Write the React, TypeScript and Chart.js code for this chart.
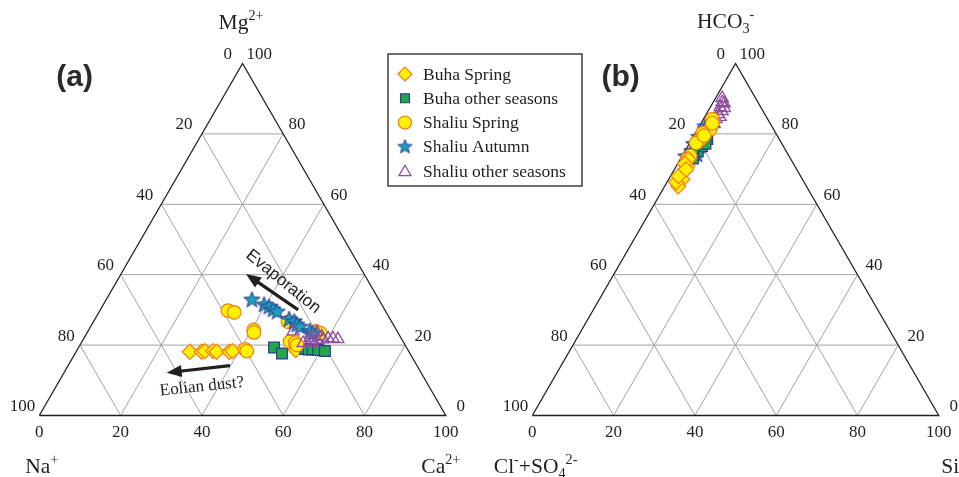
import { useEffect, useRef } from 'react';
import { Chart, registerables } from 'chart.js';
import { drawPoint } from 'chart.js/helpers';

Chart.register(...registerables);

const W = 959;
const H = 477;
const TICKS = [0, 20, 40, 60, 80, 100];

// Panel (a) cations: [Ca2+ %, Mg2+ %]  (Na+ % = 100 - Ca - Mg)
const aBuhaSpring: number[][] = [
  [28.0, 18.1], [30.9, 18.1], [31.6, 18.3], [33.6, 18.3], [34.6, 18.1], [37.7, 18.1], [38.4, 18.3], [53.8, 18.6],
];
const aBuhaOther: number[][] = [
  [48.1, 19.3], [50.9, 17.6], [56.0, 18.9], [56.9, 18.75], [57.9, 18.75], [59.3, 18.6], [61.1, 18.3],
];
const aShaliuSpring: number[][] = [
  [31.5, 29.8], [33.3, 29.3], [40.6, 24.3], [41.0, 23.6], [41.2, 18.8], [41.9, 18.3], [47.9, 26.6],
  [51.2, 21.0], [52.6, 20.7], [53.4, 20.0], [56.1, 23.9], [57.4, 23.4],
];
const aShaliuAutumn: number[][] = [
  [35.9, 32.8], [39.6, 31.4], [41.1, 30.8], [42.5, 30.0], [43.8, 29.4], [47.8, 27.3], [49.4, 26.6],
  [50.5, 25.7], [51.6, 25.1], [54.6, 23.9], [55.7, 23.2],
];
const aShaliuOther: number[][] = [
  [50.5, 23.9], [54.6, 20.6], [56.1, 21.0], [55.6, 22.0], [57.6, 21.4], [56.4, 23.7], [58.3, 22.4],
  [59.0, 21.6], [60.1, 21.9], [61.3, 21.9], [62.6, 21.7], [57.0, 20.6],
];

// Panel (b) anions: [Si %, HCO3- %]  (Cl- + SO4 2- % = 100 - Si - HCO3)
const bBuhaSpring: number[][] = [
  [1.95, 72.8], [2.7, 70.8], [2.55, 69.1], [3.35, 67.1], [3.35, 65.1], [2.25, 66.3], [2.0, 68.0], [1.8, 71.5], [2.9, 69.9],
];
const bBuhaOther: number[][] = [
  [3.2, 75.0], [3.5, 76.5], [2.6, 74.0], [3.8, 78.5], [3.0, 73.0], [4.0, 77.2],
];
const bShaliuSpring: number[][] = [
  [2.2, 84.2], [3.1, 81.3], [1.8, 80.2], [2.0, 78.2], [1.6, 77.4], [2.0, 73.7], [1.7, 72.8], [2.8, 83.0], [2.5, 79.5],
];
const bShaliuAutumn: number[][] = [
  [1.5, 82.0], [2.5, 80.5], [1.5, 79.0], [2.8, 78.0], [1.2, 77.0], [2.5, 76.0], [1.8, 75.0], [3.5, 74.0], [1.0, 73.5], [2.0, 81.2],
];
const bShaliuOther: number[][] = [
  [1.6, 90.2], [2.85, 88.7], [2.4, 87.6], [3.45, 86.5], [2.9, 85.6], [3.1, 84.2], [3.35, 82.8], [3.8, 84.8], [2.2, 89.0], [3.6, 87.3],
];

const SERIES_LABELS = ['Buha Spring', 'Buha other seasons', 'Shaliu Spring', 'Shaliu Autumn', 'Shaliu other seasons'];

// Annotation arrows in panel (a) ternary coords [Ca, Mg]
const EVAP_ARROW = { from: [48.7, 30.0], to: [30.75, 40.2] };
const EOLIAN_ARROW = { from: [39.85, 14.15], to: [25.26, 12.16] };
const EVAP_TEXT = { at: [41.0, 38.0], text: 'Evaporation' };
const EOLIAN_TEXT = { at: [35.9, 8.2], text: 'Eolian dust?' };

// layout (unit scale)
const K = 4.065;
const LEFT_PX = 39.3;
const BASE_PX = 415.5;
const B_OFFSET = 121.28;
const SQ3 = Math.sqrt(3) / 2;

const YELLOW = '#FFF200';
const ORANGE = '#F47A20';
const GREEN = '#22A84A';
const NAVY = '#2B3990';
const TEAL = '#1E9EBE';
const PURPLE = '#8F4C9F';
const INK = '#231F20';
const GRID = '#A3A3A3';
const SERIF = "'Liberation Serif', 'Times New Roman', serif";
const SANS = "'Liberation Sans', Arial, sans-serif";

function makeStar(ro: number, ri: number, fill: string, stroke: string, lw: number) {
  const size = Math.ceil(ro * 2 + lw * 2 + 2);
  const c = document.createElement('canvas');
  c.width = size;
  c.height = size;
  const g = c.getContext('2d')!;
  g.translate(size / 2, size / 2);
  g.beginPath();
  for (let i = 0; i < 10; i++) {
    const r = i % 2 ? ri : ro;
    const a = -Math.PI / 2 + (i * Math.PI) / 5;
    g.lineTo(r * Math.cos(a), r * Math.sin(a));
  }
  g.closePath();
  g.fillStyle = fill;
  g.fill();
  g.lineWidth = lw;
  g.strokeStyle = stroke;
  g.stroke();
  return c;
}

const tern = (r: number, t: number, off: number) => ({ x: off + r + t / 2, y: t * SQ3 });

function seriesStyles(star: HTMLCanvasElement) {
  return [
    { pointStyle: 'rectRot', pointRadius: 7.6, backgroundColor: YELLOW, borderColor: ORANGE, borderWidth: 1.2 },
    { pointStyle: 'rect', pointRadius: 7.6, backgroundColor: GREEN, borderColor: NAVY, borderWidth: 1.2 },
    { pointStyle: 'circle', pointRadius: 6.8, backgroundColor: YELLOW, borderColor: ORANGE, borderWidth: 1.2 },
    { pointStyle: star, pointRadius: 8, backgroundColor: TEAL, borderColor: NAVY, borderWidth: 1 },
    { pointStyle: 'triangle', pointRadius: 7, backgroundColor: 'rgba(0,0,0,0)', borderColor: PURPLE, borderWidth: 1.3 },
  ];
}

function gridSegments(off: number) {
  const segs: { x: number; y: number }[][] = [];
  for (const c of [20, 40, 60, 80]) {
    segs.push([tern(0, c, off), tern(100 - c, c, off)]);
    segs.push([tern(c, 0, off), tern(c, 100 - c, off)]);
    segs.push([tern(100 - c, 0, off), tern(0, 100 - c, off)]);
  }
  return segs;
}

type Part = { t: string; k?: 'sup' | 'sub' };

function drawRich(ctx: CanvasRenderingContext2D, x: number, y: number, parts: Part[], size: number) {
  let cx = x;
  ctx.textBaseline = 'alphabetic';
  ctx.textAlign = 'left';
  for (const p of parts) {
    const s = p.k ? size * 0.66 : size;
    ctx.font = `${s}px ${SERIF}`;
    const dy = p.k === 'sup' ? -size * 0.42 : p.k === 'sub' ? size * 0.22 : 0;
    ctx.fillText(p.t, cx, y + dy);
    cx += ctx.measureText(p.t).width;
  }
}

function drawArrow(ctx: CanvasRenderingContext2D, a: { x: number; y: number }, b: { x: number; y: number }) {
  const ang = Math.atan2(b.y - a.y, b.x - a.x);
  const hl = 15;
  const hw = 6;
  const bx = b.x - hl * Math.cos(ang);
  const by = b.y - hl * Math.sin(ang);
  ctx.strokeStyle = INK;
  ctx.fillStyle = INK;
  ctx.lineWidth = 3.2;
  ctx.beginPath();
  ctx.moveTo(a.x, a.y);
  ctx.lineTo(bx + 2 * Math.cos(ang), by + 2 * Math.sin(ang));
  ctx.stroke();
  ctx.beginPath();
  ctx.moveTo(b.x, b.y);
  ctx.lineTo(bx - hw * Math.sin(ang), by + hw * Math.cos(ang));
  ctx.lineTo(bx + hw * Math.sin(ang), by - hw * Math.cos(ang));
  ctx.closePath();
  ctx.fill();
}

export default function App() {
  const ref = useRef<HTMLCanvasElement | null>(null);

  useEffect(() => {
    if (!ref.current) return;
    const star = makeStar(8.5, 3.6, TEAL, NAVY, 1);
    const legendStar = makeStar(7.5, 3.2, TEAL, NAVY, 1);
    const styles = seriesStyles(star);
    const aSeries = [aBuhaSpring, aBuhaOther, aShaliuSpring, aShaliuAutumn, aShaliuOther];
    const bSeries = [bBuhaSpring, bBuhaOther, bShaliuSpring, bShaliuAutumn, bShaliuOther];
    const aOrder = [5, 4, 3, 2, 1];
    const bOrder = [1, 3, 2, 4, 5];

    const datasets: any[] = [];
    for (const off of [0, B_OFFSET]) {
      datasets.push({
        label: 'frame',
        data: [tern(0, 0, off), tern(100, 0, off), tern(0, 100, off), tern(0, 0, off)],
        showLine: true,
        borderColor: INK,
        borderWidth: 1.3,
        pointRadius: 0,
        fill: false,
        order: 10,
      });
      for (const seg of gridSegments(off)) {
        datasets.push({
          label: 'grid',
          data: seg,
          showLine: true,
          borderColor: GRID,
          borderWidth: 1,
          pointRadius: 0,
          fill: false,
          order: 11,
        });
      }
    }
    aSeries.forEach((s, i) => {
      datasets.push({
        label: SERIES_LABELS[i],
        data: s.map(([r, t]) => tern(r, t, 0)),
        ...styles[i],
        order: aOrder[i],
      });
    });
    bSeries.forEach((s, i) => {
      datasets.push({
        label: SERIES_LABELS[i],
        data: s.map(([r, t]) => tern(r, t, B_OFFSET)),
        ...styles[i],
        order: bOrder[i],
      });
    });

    const textPlugin = {
      id: 'ternaryText',
      afterDraw(chart: any) {
        const ctx: CanvasRenderingContext2D = chart.ctx;
        const xs = chart.scales.x;
        const ys = chart.scales.y;
        const P = (r: number, t: number, off: number) => {
          const q = tern(r, t, off);
          return { x: xs.getPixelForValue(q.x), y: ys.getPixelForValue(q.y) };
        };
        ctx.save();
        ctx.fillStyle = INK;
        // tick labels
        for (const off of [0, B_OFFSET]) {
          ctx.font = `17px ${SERIF}`;
          for (const c of TICKS) {
            const pb = P(c, 0, off);
            ctx.textAlign = 'center';
            ctx.textBaseline = 'middle';
            ctx.fillText(String(c), pb.x, pb.y + 17.5);
            const pl = P(0, c, off);
            ctx.textAlign = 'right';
            ctx.fillText(String(100 - c), pl.x - (4 + 6.6 * (c / 100)), pl.y - 9);
            const pr = P(100 - c, c, off);
            ctx.textAlign = 'left';
            ctx.fillText(String(c), pr.x + (4 + 6.7 * (1 - c / 100)), pr.y - 9);
          }
        }
        // titles
        const apexA = P(0, 100, 0);
        const apexB = P(0, 100, B_OFFSET);
        const blA = P(0, 0, 0);
        const brA = P(100, 0, 0);
        const blB = P(0, 0, B_OFFSET);
        const brB = P(100, 0, B_OFFSET);
        drawRich(ctx, apexA.x - 24, apexA.y - 34.5, [{ t: 'Mg' }, { t: '2+', k: 'sup' }], 21.5);
        drawRich(ctx, apexB.x - 38.5, apexB.y - 35, [{ t: 'HCO' }, { t: '3', k: 'sub' }, { t: '-', k: 'sup' }], 21.5);
        drawRich(ctx, blA.x - 14, blA.y + 57.5, [{ t: 'Na' }, { t: '+', k: 'sup' }], 21.5);
        drawRich(ctx, brA.x - 24.5, brA.y + 57.5, [{ t: 'Ca' }, { t: '2+', k: 'sup' }], 21.5);
        drawRich(ctx, blB.x - 38.5, blB.y + 57.5, [{ t: 'Cl' }, { t: '-', k: 'sup' }, { t: '+SO' }, { t: '4', k: 'sub' }, { t: '2-', k: 'sup' }], 21.5);
        drawRich(ctx, brB.x + 2.5, brB.y + 57.5, [{ t: 'Si' }], 21.5);
        // panel letters
        ctx.font = `bold 30px ${SANS}`;
        ctx.textAlign = 'center';
        ctx.textBaseline = 'middle';
        ctx.fillStyle = '#2A2A2A';
        ctx.fillText('(a)', apexA.x - 168, apexA.y + 14);
        ctx.fillText('(b)', apexB.x - 115, apexB.y + 14);
        ctx.fillStyle = INK;
        // arrows
        drawArrow(ctx, P(EVAP_ARROW.from[0], EVAP_ARROW.from[1], 0), P(EVAP_ARROW.to[0], EVAP_ARROW.to[1], 0));
        drawArrow(ctx, P(EOLIAN_ARROW.from[0], EOLIAN_ARROW.from[1], 0), P(EOLIAN_ARROW.to[0], EOLIAN_ARROW.to[1], 0));
        const et = P(EVAP_TEXT.at[0], EVAP_TEXT.at[1], 0);
        ctx.save();
        ctx.translate(et.x, et.y);
        ctx.rotate((39 * Math.PI) / 180);
        ctx.font = `17px ${SANS}`;
        ctx.textAlign = 'center';
        ctx.textBaseline = 'middle';
        ctx.fillText(EVAP_TEXT.text, 0, 0);
        ctx.restore();
        const dt = P(EOLIAN_TEXT.at[0], EOLIAN_TEXT.at[1], 0);
        ctx.save();
        ctx.translate(dt.x, dt.y);
        ctx.rotate((-6 * Math.PI) / 180);
        ctx.font = `17px ${SERIF}`;
        ctx.textAlign = 'center';
        ctx.textBaseline = 'middle';
        ctx.fillText(EOLIAN_TEXT.text, 0, 0);
        ctx.restore();
        // legend
        const lx = 388;
        const ly = 54;
        ctx.lineWidth = 1.3;
        ctx.strokeStyle = INK;
        ctx.strokeRect(lx, ly, 194, 132);
        const legendStyles = [
          { pointStyle: 'rectRot', radius: 7, fill: YELLOW, stroke: ORANGE, bw: 1.2 },
          { pointStyle: 'rect', radius: 6.3, fill: GREEN, stroke: NAVY, bw: 1.2 },
          { pointStyle: 'circle', radius: 6.6, fill: YELLOW, stroke: ORANGE, bw: 1.2 },
          { pointStyle: legendStar, radius: 7, fill: TEAL, stroke: NAVY, bw: 1 },
          { pointStyle: 'triangle', radius: 7, fill: 'rgba(0,0,0,0)', stroke: PURPLE, bw: 1.3 },
        ];
        SERIES_LABELS.forEach((lab, i) => {
          const y = ly + 20 + i * 24.3;
          const st = legendStyles[i];
          ctx.fillStyle = st.fill;
          ctx.strokeStyle = st.stroke;
          ctx.lineWidth = st.bw;
          drawPoint(ctx, { pointStyle: st.pointStyle as any, radius: st.radius, rotation: 0, borderWidth: st.bw } as any, lx + 17, y + (i === 4 ? 1 : 0));
          ctx.fillStyle = INK;
          ctx.font = `17.5px ${SERIF}`;
          ctx.textAlign = 'left';
          ctx.textBaseline = 'middle';
          ctx.fillText(lab, lx + 35, y + 1);
        });
        ctx.restore();
      },
    };

    const chart = new Chart(ref.current, {
      type: 'scatter',
      data: { datasets },
      options: {
        animation: false,
        responsive: false,
        maintainAspectRatio: false,
        events: [],
        layout: { padding: 0, autoPadding: false } as any,
        plugins: { legend: { display: false }, tooltip: { enabled: false } },
        scales: {
          x: { type: 'linear', display: false, min: -LEFT_PX / K, max: (W - LEFT_PX) / K },
          y: { type: 'linear', display: false, min: -(H - BASE_PX) / K, max: BASE_PX / K },
        },
      },
      plugins: [
        {
          id: 'whiteBg',
          beforeDraw(c: any) {
            const g = c.ctx;
            g.save();
            g.fillStyle = '#fff';
            g.fillRect(0, 0, c.width, c.height);
            g.restore();
          },
        },
        textPlugin,
      ],
    });
    return () => chart.destroy();
  }, []);

  return (
    <div style={{ position: 'fixed', left: 0, top: 0, width: W, height: H, background: '#fff' }}>
      <canvas ref={ref} width={W} height={H} style={{ display: 'block' }} />
    </div>
  );
}
